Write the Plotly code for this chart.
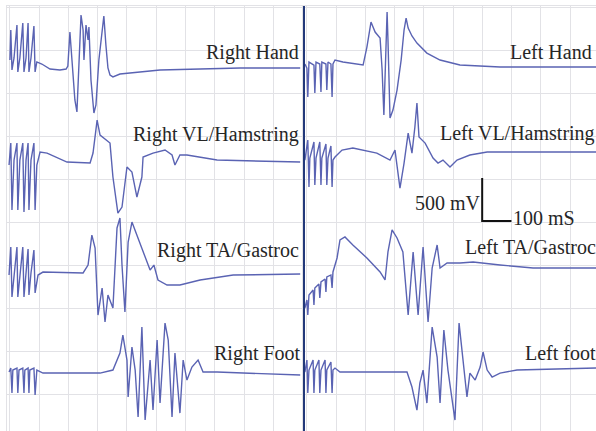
import plotly.graph_objects as go

# ---------------- data (time in ms, amplitude in mV relative to channel baseline) -------------
right_hand_ms = [0, 3, 7, 14, 24, 27, 34, 44, 48, 55, 62, 65, 72, 82, 86, 92, 109, 137, 171, 192, 198, 205, 212, 222, 229, 236, 243, 250, 253, 260, 267, 270, 277, 287, 294, 304, 315, 321, 328, 335, 342, 352, 376, 445, 513, 650, 787, 992]
right_hand_mV = [93, 441, -23, 116, 499, -46, 116, 522, -46, 116, 522, -46, 116, 487, -46, 70, 46, -12, -23, -12, 23, 418, 93, -371, -510, 93, 615, 441, 93, 499, 325, 476, -139, -522, -429, 93, 441, 603, 267, 0, -81, -104, -70, -46, -23, -12, 0, 0]

left_hand_ms = [-7, 0, 3, 7, 24, 27, 31, 44, 48, 51, 65, 68, 72, 82, 86, 89, 96, 123, 192, 205, 219, 233, 250, 257, 263, 270, 274, 277, 284, 294, 308, 322, 332, 339, 346, 359, 376, 410, 455, 523, 660, 988]
left_hand_mV = [35, -12, -348, 58, 23, -302, 58, 35, -290, 58, 35, -267, 58, 35, -348, 35, 81, 58, 23, 232, 522, 406, 336, -35, -557, 81, 638, 313, -592, -499, -267, 81, 429, 568, 452, 360, 278, 162, 81, 23, 0, 0]

right_vl_ms = [-3, 3, 7, 14, 24, 27, 34, 44, 48, 55, 62, 65, 72, 82, 86, 92, 103, 127, 195, 274, 284, 298, 308, 342, 352, 369, 383, 400, 417, 434, 451, 455, 489, 530, 554, 564, 581, 605, 708, 992]
right_vl_mV = [-35, 220, -557, 23, 220, -557, 23, 220, -580, 23, 220, -557, 23, 220, -557, -35, 116, 104, 0, -12, 104, 487, 313, 220, -174, -592, -522, -58, -116, -406, -174, 58, 104, 139, 81, -35, 81, 81, 23, 0]

left_vl_ms = [-7, 3, 7, 10, 24, 27, 31, 44, 48, 51, 65, 68, 72, 82, 86, 89, 96, 120, 157, 239, 284, 301, 318, 332, 346, 359, 369, 376, 383, 404, 431, 448, 465, 489, 513, 557, 616, 988]
left_vl_mV = [-93, 139, -406, -70, 116, -383, -70, 116, -383, -70, 93, -383, -70, 70, -406, -93, -58, 23, 46, -12, -93, 23, -418, -128, 220, -12, 290, 568, 174, 104, -70, -128, -93, -174, -93, -35, 0, 0]

right_ta_ms = [-3, 3, 7, 14, 24, 27, 34, 44, 48, 55, 62, 65, 72, 82, 86, 96, 113, 250, 267, 280, 291, 301, 315, 325, 335, 352, 366, 376, 383, 393, 404, 417, 434, 455, 479, 492, 506, 537, 581, 650, 763, 992]
right_ta_mV = [-12, 313, -267, 12, 313, -267, 12, 313, -267, 12, 290, -244, 12, 278, -220, -12, 23, 12, 104, 452, 302, -476, -162, -557, -244, -394, 534, 650, 104, -441, 371, 603, 452, 255, 46, 104, -70, -128, -128, -70, -12, 0]

left_ta_ms = [-7, 0, 3, 7, 21, 24, 27, 41, 44, 48, 62, 65, 68, 82, 86, 89, 103, 113, 130, 157, 205, 250, 267, 277, 291, 308, 328, 346, 363, 380, 397, 414, 428, 445, 455, 479, 523, 568, 660, 773, 988]
left_ta_mV = [-464, -371, -545, -313, -255, -429, -232, -186, -348, -162, -128, -278, -104, -81, -232, -46, 116, 325, 360, 267, 116, -46, -139, 186, 441, 348, 186, -545, 186, -545, 244, -626, 0, 267, 0, 58, 58, 70, 35, 0, 0]

right_foot_ms = [-3, 3, 7, 10, 24, 27, 31, 44, 48, 51, 62, 65, 68, 82, 86, 92, 113, 308, 352, 376, 386, 400, 404, 417, 428, 438, 451, 462, 479, 489, 503, 513, 530, 541, 554, 564, 581, 592, 605, 622, 643, 660, 708, 992]
right_foot_mV = [0, 46, -244, 23, 46, -244, 23, 46, -244, 23, 46, -244, 23, 46, -267, 23, -12, -12, 23, 220, 429, 139, -290, 290, 23, -522, 522, -557, 139, -441, 371, -360, 568, 371, -522, 220, -476, 139, -93, 58, 139, 0, 0, -35]

left_foot_ms = [-7, 0, 3, 7, 21, 24, 27, 41, 44, 48, 62, 65, 68, 82, 86, 89, 96, 113, 342, 359, 376, 386, 397, 410, 428, 445, 455, 468, 482, 506, 520, 534, 547, 557, 575, 592, 602, 616, 633, 660, 718, 988]
left_foot_mV = [0, 139, -244, 23, 139, -244, 23, 139, -244, 23, 139, -244, 23, 116, -244, 23, 46, 0, 0, -174, -441, -128, 23, -360, 522, 174, -360, 487, 23, -557, 568, 104, -290, -12, -93, 58, 232, 23, -58, -12, 23, 46]

channel_names = ["Right Hand", "Left Hand", "Right VL/Hamstring", "Left VL/Hamstring",
                 "Right TA/Gastroc", "Left TA/Gastroc", "Right Foot", "Left foot"]
scale_bar_mV = 500
scale_bar_ms = 100

# ---------------- layout constants (positions / styles) ----------------
W, H = 596, 431
TRACE_COLOR = "#5a63b3"
GRID_COLOR = "#e2e2e6"
FONT = "Liberation Serif, Times New Roman, serif"

# baseline of each channel on the shared vertical axis (mV units)
row_offset = {"Right Hand": 4211, "Left Hand": 4222,
              "Right VL/Hamstring": 3120, "Left VL/Hamstring": 3236,
              "Right TA/Gastroc": 1821, "Left TA/Gastroc": 1891,
              "Right Foot": 684, "Left foot": 684}

series = {
    "Right Hand": (right_hand_ms, right_hand_mV, "x"),
    "Left Hand": (left_hand_ms, left_hand_mV, "x2"),
    "Right VL/Hamstring": (right_vl_ms, right_vl_mV, "x"),
    "Left VL/Hamstring": (left_vl_ms, left_vl_mV, "x2"),
    "Right TA/Gastroc": (right_ta_ms, right_ta_mV, "x"),
    "Left TA/Gastroc": (left_ta_ms, left_ta_mV, "x2"),
    "Right Foot": (right_foot_ms, right_foot_mV, "x"),
    "Left foot": (left_foot_ms, left_foot_mV, "x2"),
}

# label placement (left edge px, vertical centre px)
label_pos = {"Right Hand": (204, 52), "Left Hand": (508, 52),
             "Right VL/Hamstring": (131, 135), "Left VL/Hamstring": (438, 133),
             "Right TA/Gastroc": (155, 250), "Left TA/Gastroc": (463, 247),
             "Right Foot": (212, 353), "Left foot": (523, 353)}

fig = go.Figure()
for name in channel_names:
    t, v, xa = series[name]
    off = row_offset[name]
    fig.add_trace(go.Scatter(x=t, y=[val + off for val in v], mode="lines",
                             xaxis=xa, yaxis="y",
                             line=dict(color=TRACE_COLOR, width=1.4),
                             showlegend=False, hoverinfo="skip"))

# scale bar (right panel)
sb_x0, sb_y0 = 599, 2436
fig.add_trace(go.Scatter(x=[sb_x0, sb_x0, sb_x0 + scale_bar_ms],
                         y=[sb_y0 + scale_bar_mV, sb_y0, sb_y0],
                         mode="lines", xaxis="x2", yaxis="y",
                         line=dict(color="#111111", width=2),
                         showlegend=False, hoverinfo="skip"))

ann = []
for name in channel_names:
    px, py = label_pos[name]
    ann.append(dict(text=name, x=px / W, y=1 - py / H, xref="paper", yref="paper",
                    xanchor="left", yanchor="middle", showarrow=False,
                    font=dict(family=FONT, size=20, color="#262626")))
ann.append(dict(text=f"{scale_bar_mV} mV", x=413 / W, y=1 - 203 / H, xref="paper", yref="paper",
                xanchor="left", yanchor="middle", showarrow=False,
                font=dict(family=FONT, size=20, color="#262626")))
ann.append(dict(text=f"{scale_bar_ms} mS", x=511 / W, y=1 - 218 / H, xref="paper", yref="paper",
                xanchor="left", yanchor="middle", showarrow=False,
                font=dict(family=FONT, size=20, color="#262626")))

axis_common = dict(showgrid=True, gridcolor=GRID_COLOR, gridwidth=1, zeroline=False,
                   showticklabels=False, ticks="", dtick=100, tick0=0,
                   showline=True, linecolor=GRID_COLOR, mirror=True)

fig.update_layout(
    width=W, height=H,
    margin=dict(l=0, r=0, t=0, b=0),
    paper_bgcolor="white", plot_bgcolor="white",
    xaxis=dict(domain=[7 / W, 304 / W], range=[-10, 1005], anchor="y", **axis_common),
    xaxis2=dict(domain=[304 / W, 1], range=[-10, 988], anchor="y", **axis_common),
    yaxis=dict(domain=[0, 425 / H], range=[0, 4930], showgrid=True, gridcolor=GRID_COLOR,
               gridwidth=1, zeroline=False, showticklabels=False, ticks="",
               dtick=500, tick0=418, showline=True, linecolor=GRID_COLOR, mirror=True),
    annotations=ann,
    shapes=[dict(type="line", xref="paper", yref="paper", x0=304 / W, x1=304 / W,
                 y0=0, y1=425 / H, line=dict(color="#23397a", width=2))],
)

fig.write_html("out.html")
